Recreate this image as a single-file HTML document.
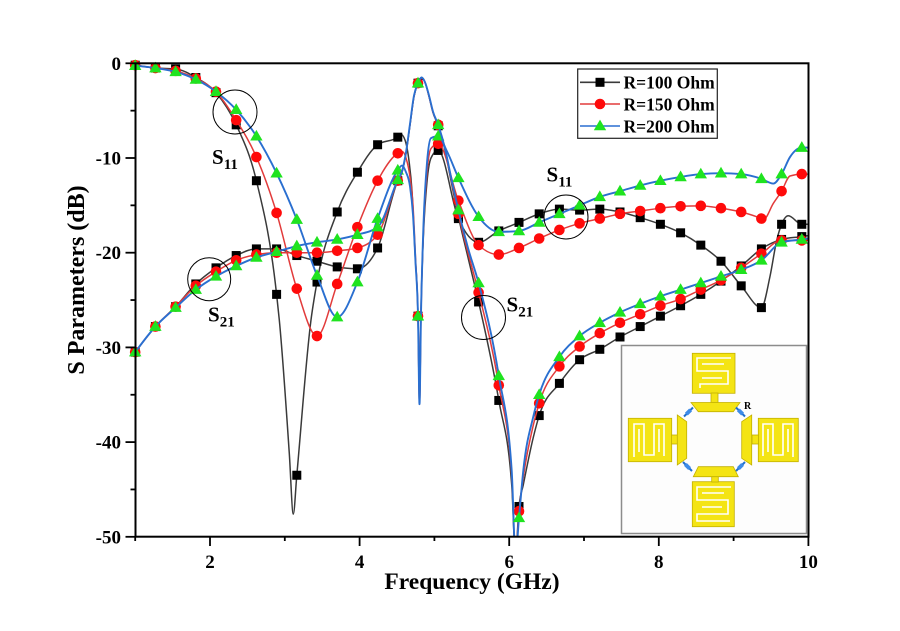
<!DOCTYPE html>
<html>
<head>
<meta charset="utf-8">
<style>
html,body{margin:0;padding:0;background:#fff;}
svg{display:block;}
text{font-family:"Liberation Serif","Times New Roman",serif;font-weight:bold;fill:#000;}
</style>
</head>
<body>
<svg id="s" width="900" height="631" viewBox="0 0 900 631" xmlns="http://www.w3.org/2000/svg">
<rect x="0" y="0" width="900" height="631" fill="#fff"/>
<defs>
<clipPath id="clip"><rect x="135.5" y="63.3" width="673" height="473.4"/></clipPath>
</defs>
<g id="curves"></g>

<!-- axes frame -->
<rect x="135.5" y="63.3" width="673" height="473.4" fill="none" stroke="#000" stroke-width="2"/>
<g id="ticks" stroke="#000" stroke-width="1.8"></g>
<g id="ticklabels" font-size="19"></g>

<text x="472" y="589" font-size="23.5" text-anchor="middle">Frequency (GHz)</text>
<text transform="translate(84,280) rotate(-90)" font-size="24" text-anchor="middle">S Parameters (dB)</text>

<!-- annotations -->
<circle cx="235" cy="112" r="22" fill="none" stroke="#000" stroke-width="1"/>
<text x="212" y="164" font-size="21">S<tspan font-size="15" dy="5">11</tspan></text>
<circle cx="209.2" cy="279.2" r="21.5" fill="none" stroke="#000" stroke-width="1"/>
<text x="208" y="321.5" font-size="21">S<tspan font-size="15" dy="5">21</tspan></text>
<circle cx="566" cy="217" r="22" fill="none" stroke="#000" stroke-width="1"/>
<text x="546.5" y="181.5" font-size="21">S<tspan font-size="15" dy="5">11</tspan></text>
<circle cx="483.5" cy="317.5" r="22" fill="none" stroke="#000" stroke-width="1"/>
<text x="506.5" y="311.5" font-size="21">S<tspan font-size="15" dy="5">21</tspan></text>

<!-- legend -->
<rect x="577.7" y="69" width="139.6" height="69.3" fill="#fff" stroke="#222" stroke-width="1.2"/>
<g id="legend"></g>

<!-- inset -->
<g id="inset">
<rect x="621.5" y="345.5" width="185" height="188" fill="#fdfdfd" stroke="#8c8c8c" stroke-width="1.5"/>
<g fill="#f4e414" stroke="#c2b000" stroke-width="0.8">
 <!-- top -->
 <rect x="692.3" y="353.3" width="42.7" height="40"/>
 <rect x="711" y="393" width="7" height="9.7"/>
 <polygon points="691,402.5 740,402.5 733.3,411.7 698.3,411.7"/>
 <!-- bottom -->
 <rect x="692.3" y="481.7" width="42" height="45"/>
 <rect x="711.7" y="476.5" width="6.6" height="5.5"/>
 <polygon points="698.3,466.7 733.3,466.7 738.3,476.7 693.3,476.7"/>
 <!-- left -->
 <rect x="628.3" y="418.3" width="43.4" height="43.4"/>
 <rect x="671.5" y="435" width="6" height="9"/>
 <polygon points="677.3,415 686.7,421.7 686.7,458.3 677.3,465"/>
 <!-- right -->
 <rect x="758.3" y="418.3" width="40" height="43.4"/>
 <rect x="752" y="435" width="6.5" height="9"/>
 <polygon points="741.7,421.7 751.7,415 751.7,465 741.7,458.3"/>
</g>
<g fill="none" stroke="#fff" stroke-width="1.6">
 <polyline points="731,358 697,358 697,371 728,371 728,384 700,384 700,388"/>
 <polyline points="702,364 724,364"/>
 <polyline points="702,378 722,378"/>
 <polyline points="731,487 697,487 697,500 728,500 728,514 697,514 697,521 730,521"/>
 <polyline points="702,493 724,493"/>
 <polyline points="702,507 722,507"/>
 <polyline points="634,457 634,424 644,424 644,455 654,455 654,424 664,424 664,456"/>
 <polyline points="639,429 639,452"/>
 <polyline points="659,429 659,452"/>
 <polyline points="793,457 793,424 783,424 783,455 773,455 773,424 763,424 763,456"/>
 <polyline points="788,429 788,452"/>
 <polyline points="768,429 768,452"/>
</g>
<g stroke="#1f6fcf" stroke-width="2">
 <line x1="684" y1="416.5" x2="693" y2="407.5"/>
 <line x1="736" y1="407.5" x2="745" y2="416.5"/>
 <line x1="683" y1="462" x2="692" y2="471"/>
 <line x1="736" y1="471" x2="745" y2="462"/>
</g>
<g fill="#3d8be8">
 <rect x="-3" y="-2" width="6" height="4" transform="translate(688.5,412) rotate(-45)"/>
 <rect x="-3" y="-2" width="6" height="4" transform="translate(740.5,412) rotate(45)"/>
 <rect x="-3" y="-2" width="6" height="4" transform="translate(687.5,466.5) rotate(45)"/>
 <rect x="-3" y="-2" width="6" height="4" transform="translate(740.5,466.5) rotate(-45)"/>
</g>
<text x="744" y="409" font-size="10">R</text>
</g>
</svg>

<script>
(function(){
var NS="http://www.w3.org/2000/svg";
var X0=135.2, DX=20.2;
function Y(d){return 63.3-9.47*d;}
function F(f){return 135.2+74.8*(f-1);}
function pts(arr){return arr.map(function(p){return p.length==3?[p[0],Y(p[1]),false]:[X0+DX*p[0],Y(p[1]),true];});}
function path(P){
 var n=P.length,x=P.map(function(p){return p[0];}),y=P.map(function(p){return p[1];}),t=new Array(n),i;
 for(i=1;i<n-1;i++){
  var h0=x[i]-x[i-1],h1=x[i+1]-x[i],s0=(y[i]-y[i-1])/h0,s1=(y[i+1]-y[i])/h1,p=(s0*h1+s1*h0)/(h0+h1);
  t[i]=(Math.sign(s0)+Math.sign(s1))*Math.min(Math.abs(s0),Math.abs(s1),0.5*Math.abs(p))||0;
 }
 var s=(y[1]-y[0])/(x[1]-x[0]); t[0]=(3*s-t[1])/2;
 s=(y[n-1]-y[n-2])/(x[n-1]-x[n-2]); t[n-1]=(3*s-t[n-2])/2;
 var d="M"+x[0].toFixed(2)+","+y[0].toFixed(2);
 for(i=0;i<n-1;i++){
  var dx=(x[i+1]-x[i])/3;
  d+="C"+(x[i]+dx).toFixed(2)+","+(y[i]+dx*t[i]).toFixed(2)+" "+(x[i+1]-dx).toFixed(2)+","+(y[i+1]-dx*t[i+1]).toFixed(2)+" "+x[i+1].toFixed(2)+","+y[i+1].toFixed(2);
 }
 return d;
}
function el(tag,attrs,parent){var e=document.createElementNS(NS,tag);for(var k in attrs)e.setAttribute(k,attrs[k]);parent.appendChild(e);return e;}
function marker(type,x,y,g){
 if(type=="sq") el("rect",{x:x-4.5,y:y-4.5,width:9,height:9,fill:"#000"},g);
 else if(type=="ci") el("circle",{cx:x,cy:y,r:5.3,fill:"#ff0a0a"},g);
 else el("polygon",{points:x+","+(y-6.4)+" "+(x-6.2)+","+(y+4.3)+" "+(x+6.2)+","+(y+4.3),fill:"#1fe31f"},g);
}

var b11=[[0,-0.2],[1,-0.5],[2,-0.6],[3,-1.5],[4,-3.1],[5,-6.5],[6,-12.4],[7,-24.4],[279.3,-27.1,0],[289.3,-41.2,0],[293.3,-47.6,0],[8,-43.5],[311,-27.1,0],[9,-23.1],[10,-15.7],[11,-11.5],[12,-8.6],[13,-7.8],[401,-7.5,0],[405,-8.1,0],[409,-10.3,0],[412,-13.5,0],[415,-20,0],[14,-26.7],[419.5,-36,0],[421,-26,0],[423.5,-18,0],[427,-12.5,0],[431,-10,0],[15,-9.2],[16,-16.4],[17,-18.9],[18,-17.7],[19,-16.8],[20,-15.9],[21,-15.4],[22,-15.5],[23,-15.4],[24,-15.7],[25,-16.3],[26,-17.0],[27,-17.9],[28,-19.2],[29,-20.9],[30,-23.5],[31,-25.8],[770,-22.5,0],[776.7,-18.7,0],[32,-17.0],[788.3,-16.1,0],[33,-17.0],[808,-17.0,0]];
var r11=[[0,-0.2],[1,-0.5],[2,-0.8],[3,-1.6],[4,-3.0],[5,-6.0],[6,-9.9],[7,-15.8],[8,-23.8],[9,-28.8],[10,-23.3],[11,-17.3],[12,-12.4],[13,-9.5],[402,-9.3,0],[406,-10,0],[410,-12,0],[413,-15,0],[415.5,-20.5,0],[14,-26.7],[419.5,-36,0],[421,-26.5,0],[423.5,-17.5,0],[427,-11.5,0],[431,-9,0],[15,-8.5],[16,-14.5],[17,-19.2],[18,-20.2],[19,-19.5],[20,-18.5],[21,-17.6],[22,-16.9],[23,-16.4],[24,-15.9],[25,-15.6],[26,-15.3],[27,-15.1],[28,-15.05],[29,-15.3],[30,-15.7],[31,-16.4],[763.5,-16.5,0],[773.3,-14.8,0],[32,-13.5],[790,-11.9,0],[33,-11.7],[808,-11.7,0]];
var g11=[[0,-0.25],[1,-0.5],[2,-0.9],[3,-1.7],[4,-3.0],[5,-4.9],[6,-7.7],[7,-11.6],[8,-16.5],[9,-22.4],[10,-26.8],[11,-23.1],[12,-16.4],[13,-11.3],[402,-10.8,0],[406,-11.5,0],[410,-13,0],[413,-16,0],[415.5,-21,0],[14,-26.7],[419.5,-36,0],[421,-26.5,0],[423.5,-17,0],[427,-10.5,0],[431,-7.9,0],[15,-7.7],[447,-9.3,0],[16,-12.1],[17,-16.2],[18,-17.8],[19,-17.7],[20,-16.8],[21,-15.9],[22,-15.0],[23,-14.1],[24,-13.5],[25,-12.9],[26,-12.4],[27,-12.0],[28,-11.7],[29,-11.6],[30,-11.7],[31,-12.2],[773.3,-12.7,0],[32,-11.7],[790,-9.9,0],[33,-8.9],[808,-8.9,0]];
var b21=[[0,-30.5],[1,-27.8],[2,-25.7],[3,-23.3],[4,-21.6],[5,-20.3],[6,-19.6],[7,-19.6],[8,-20.3],[9,-20.9],[10,-21.5],[11,-21.7],[12,-19.5],[13,-12.4],[402,-11.5,0],[406,-9.5,0],[410,-6.5,0],[414,-3.5,0],[14,-2.1],[421.7,-1.5,0],[425,-2,0],[429,-3.5,0],[433,-5.2,0],[15,-6.6],[445,-9.2,0],[451,-12.4,0],[16,-16.2],[468,-20.5,0],[17,-25.2],[18,-35.6],[511.7,-44.5,0],[515.5,-52,0],[19,-46.8],[523.3,-44.5,0],[533.3,-39.5,0],[20,-37.2],[21,-33.8],[22,-31.3],[23,-30.2],[24,-28.9],[25,-27.8],[26,-26.7],[27,-25.6],[28,-24.4],[29,-23.0],[30,-21.4],[31,-19.6],[32,-18.6],[33,-18.3],[808,-18.2,0]];
var r21=[[0,-30.5],[1,-27.8],[2,-25.7],[3,-23.5],[4,-22.0],[5,-20.8],[6,-20.2],[7,-20.0],[8,-20.0],[9,-20.0],[10,-19.8],[11,-19.5],[12,-18.1],[13,-12.4],[402,-11.5,0],[406,-9.5,0],[410,-6.5,0],[414,-3.5,0],[14,-2.1],[421.7,-1.5,0],[425,-2,0],[429,-3.5,0],[433,-5.2,0],[15,-6.5],[445,-9.1,0],[451,-12.2,0],[16,-15.9],[468,-20,0],[17,-24.2],[18,-34.0],[511.7,-43.5,0],[515.5,-52,0],[19,-47.3],[523.3,-43.7,0],[533.3,-38.2,0],[20,-35.9],[21,-32.0],[22,-29.9],[23,-28.5],[24,-27.4],[25,-26.5],[26,-25.6],[27,-24.9],[28,-23.9],[29,-22.9],[30,-21.6],[31,-20.1],[32,-18.7],[33,-18.7],[808,-18.7,0]];
var g21=[[0,-30.5],[1,-27.8],[2,-25.8],[3,-23.9],[4,-22.5],[5,-21.4],[6,-20.5],[7,-19.9],[8,-19.3],[9,-18.9],[10,-18.6],[11,-18.1],[12,-17.3],[13,-12.3],[402,-11.4,0],[406,-9.4,0],[410,-6.4,0],[414,-3.4,0],[14,-2.1],[421.7,-1.5,0],[425,-2,0],[429,-3.4,0],[433,-5.1,0],[15,-6.5],[445,-9,0],[451,-12,0],[16,-15.5],[468,-19.5,0],[17,-23.2],[18,-33.0],[511.7,-43,0],[515.5,-52,0],[19,-48.0],[523.3,-43,0],[533.3,-37.3,0],[20,-35.0],[21,-31.0],[22,-28.8],[23,-27.4],[24,-26.3],[25,-25.4],[26,-24.6],[27,-23.9],[28,-23.2],[29,-22.5],[30,-21.8],[31,-20.8],[32,-18.9],[33,-18.6],[808,-18.5,0]];

var series=[[b11,"#3a3a3a","sq",1.5],[b21,"#3a3a3a","sq",1.5],[r11,"#e23b3b","ci",1.5],[r21,"#e23b3b","ci",1.5],[g11,"#2a6fd0","tr",1.9],[g21,"#2a6fd0","tr",1.9]];
var cg=document.getElementById("curves");
series.forEach(function(s){
 var P=pts(s[0]);
 el("path",{d:path(P),fill:"none",stroke:s[1],"stroke-width":s[3],"clip-path":"url(#clip)","stroke-linejoin":"round"},cg);
 var mg=el("g",{},cg);
 P.forEach(function(p){if(p[2])marker(s[2],p[0],p[1],mg);});
});

// ticks
var tg=document.getElementById("ticks"), lg=document.getElementById("ticklabels");
for(var d=0;d>=-50;d-=5){
 var y=Y(d), major=(d%10===0);
 el("line",{x1:major?125.5:130.5,y1:y,x2:135.5,y2:y},tg);
 if(major){var t=el("text",{x:121,y:y+6.5,"text-anchor":"end"},lg);t.textContent=String(d);}
}
for(var f=1;f<=10;f++){
 var x=F(f), major=(f%2===0);
 el("line",{x1:x,y1:536.7,x2:x,y2:major?546:541},tg);
 if(major){var t2=el("text",{x:x,y:568,"text-anchor":"middle"},lg);t2.textContent=String(f);}
}

// legend
var leg=document.getElementById("legend");
var L=[["R=100 Ohm","#3a3a3a","sq",82.3],["R=150 Ohm","#e23b3b","ci",104],["R=200 Ohm","#2a6fd0","tr",126]];
L.forEach(function(l){
 el("line",{x1:580,y1:l[3],x2:620,y2:l[3],stroke:l[1],"stroke-width":1.6},leg);
 marker(l[2],600,l[3],leg);
 var t=el("text",{x:623.5,y:l[3]+6.3,"font-size":17.5},leg);t.textContent=l[0];
});
})();
</script>
</body>
</html>
